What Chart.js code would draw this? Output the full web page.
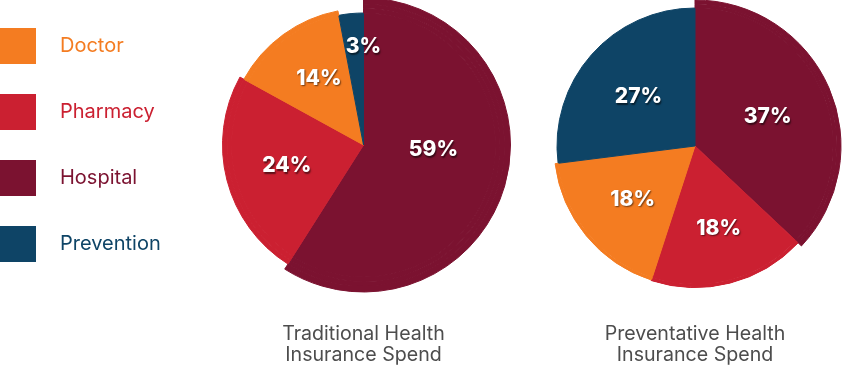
<!DOCTYPE html>
<html>
<head>
<meta charset="utf-8">
<script src="https://cdn.jsdelivr.net/npm/chart.js@4/dist/chart.umd.min.js"></script>
<style>
  html, body { margin: 0; padding: 0; background: #ffffff; overflow: hidden; width: 842px; height: 368px; }
  canvas { position: absolute; }
</style>
</head>
<body>
<canvas id="c1" width="847" height="376" style="left:-60px; top:-10px;"></canvas>
<canvas id="c2" width="300" height="376" style="left:545px; top:-10px;"></canvas>
<script>
// ---- data ----
const categories = ['Hospital', 'Pharmacy', 'Doctor', 'Prevention'];
const traditionalSpend = [59, 24, 14, 3];
const preventativeSpend = [37, 18, 18, 27];
const legendOrder = ['Doctor', 'Pharmacy', 'Hospital', 'Prevention'];
const traditionalTitle = ['Traditional Health', 'Insurance Spend'];
const preventativeTitle = ['Preventative Health', 'Insurance Spend'];

// ---- styles ----
const colors = { Hospital: '#7B1230', Pharmacy: '#CB2031', Doctor: '#F47C21', Prevention: '#0E4466' };
const sliceRadii1 = { Hospital: 147, Pharmacy: 141, Doctor: 136.5, Prevention: 132 };
const sliceRadii2 = { Hospital: 146, Pharmacy: 141.5, Doctor: 141, Prevention: 138 };
const labelPlace1 = { distance: [70, 79, 82, 100], angleOffset: [-13.7, 0.5, 3, 5.4], nudgeY: 2 };
const labelPlace2 = { distance: [79, 84, 81, 76], angleOffset: [0.3, -2, 0, 0.6], nudgeY: 2 };

Chart.defaults.font.family = 'Inter';
Chart.defaults.animation = false;

function buildRings(values, radii) {
  const r = Array.from(new Set(categories.map(c => radii[c]))).sort((a, b) => b - a);
  return r.map((outer, k) => {
    const inner = k + 1 < r.length ? r[k + 1] : 0;
    const show = categories.map(c => radii[c] >= outer);
    return {
      data: values,
      weight: outer - inner,
      backgroundColor: categories.map((c, i) => show[i] ? colors[c] : 'rgba(0,0,0,0)'),
      borderColor: categories.map((c, i) => show[i] ? colors[c] : 'rgba(0,0,0,0)'),
      borderWidth: categories.map((c, i) => show[i] ? 1 : 0)
    };
  });
}

const sliceLabels = {
  id: 'sliceLabels',
  afterDatasetsDraw(chart, args, opts) {
    const di = chart.data.datasets.length - 1;
    const meta = chart.getDatasetMeta(di);
    const vals = chart.data.datasets[di].data;
    const ctx = chart.ctx;
    ctx.save();
    ctx.font = '800 21px Inter';
    ctx.textAlign = 'center';
    ctx.textBaseline = 'middle';
    ctx.fillStyle = '#ffffff';
    ctx.shadowColor = 'rgba(0,0,0,0.55)';
    ctx.shadowOffsetX = 1;
    ctx.shadowOffsetY = 1.5;
    ctx.shadowBlur = 1.5;
    meta.data.forEach((arc, i) => {
      const p = arc.getProps(['x', 'y', 'startAngle', 'endAngle'], true);
      const a = (p.startAngle + p.endAngle) / 2 + opts.angleOffset[i] * Math.PI / 180;
      const d = opts.distance[i];
      ctx.fillText(vals[i] + '%', p.x + d * Math.cos(a), p.y + d * Math.sin(a) + opts.nudgeY);
    });
    ctx.restore();
  }
};

function swatch(color) {
  const c = document.createElement('canvas');
  c.width = 36; c.height = 36;
  const g = c.getContext('2d');
  g.fillStyle = color;
  g.fillRect(0, 0, 36, 36);
  return c;
}

function titleOpts(text, padTop) {
  return {
    display: true,
    text: text,
    position: 'bottom',
    fullSize: false,
    color: '#4d4d4d',
    font: { size: 19.6, weight: 400, lineHeight: '21px' },
    padding: { top: padTop, bottom: 0 }
  };
}

new Chart(document.getElementById('c1'), {
  type: 'pie',
  data: { labels: categories, datasets: buildRings(traditionalSpend, sliceRadii1) },
  plugins: [sliceLabels],
  options: {
    responsive: false,
    events: [],
    radius: sliceRadii1.Hospital,
    cutout: 0,
    layout: { padding: { left: 0, top: 0, right: 0, bottom: 0.5 } },
    plugins: {
      tooltip: { enabled: false },
      sliceLabels: labelPlace1,
      title: titleOpts(traditionalTitle, 23.5),
      legend: {
        display: true,
        position: 'chartArea',
        align: 'start',
        labels: {
          usePointStyle: true,
          pointStyleWidth: 64,
          padding: 46,
          font: { size: 20, weight: 400 },
          generateLabels: () => legendOrder.map(name => ({
            text: name,
            fontColor: colors[name],
            fillStyle: colors[name],
            strokeStyle: colors[name],
            lineWidth: 0,
            pointStyle: swatch(colors[name]),
            hidden: false,
            index: categories.indexOf(name),
            datasetIndex: 0
          }))
        }
      }
    }
  }
});

new Chart(document.getElementById('c2'), {
  type: 'pie',
  data: { labels: categories, datasets: buildRings(preventativeSpend, sliceRadii2) },
  plugins: [sliceLabels],
  options: {
    responsive: false,
    events: [],
    radius: sliceRadii2.Hospital,
    cutout: 0,
    layout: { padding: { left: 0, top: 0, right: 0, bottom: 0.5 } },
    plugins: {
      tooltip: { enabled: false },
      legend: { display: false },
      sliceLabels: labelPlace2,
      title: titleOpts(preventativeTitle, 21.5)
    }
  }
});
</script>
</body>
</html>
